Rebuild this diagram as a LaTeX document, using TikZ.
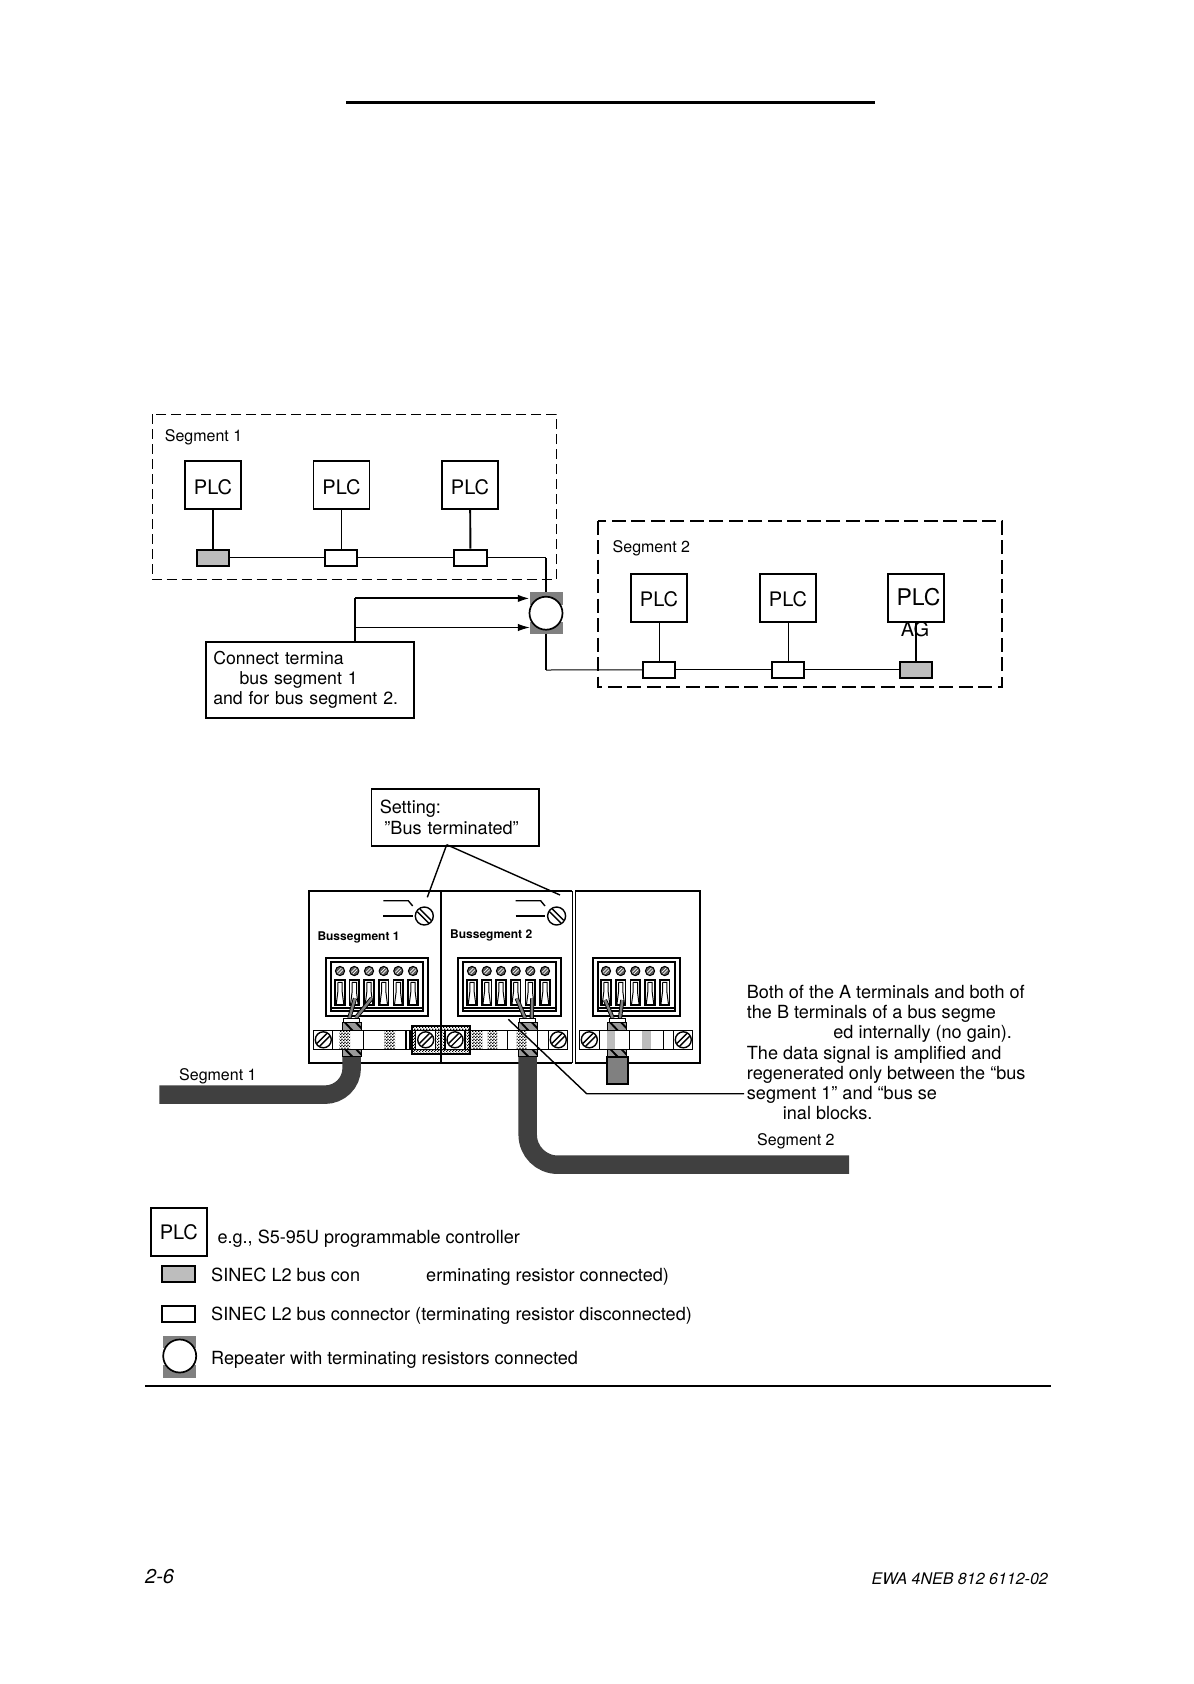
\documentclass[tikz,border=0pt]{standalone}
\usepackage{fontspec}
\setmainfont{TeX Gyre Heros}
\usetikzlibrary{arrows.meta,patterns}
\pgfdeclarepatternformonly{densedots}{\pgfqpoint{0pt}{0pt}}{\pgfqpoint{2.7pt}{2.7pt}}{\pgfqpoint{2.7pt}{2.7pt}}{%
  \pgfpathrectangle{\pgfqpoint{0pt}{0pt}}{\pgfqpoint{1.35pt}{1.35pt}}%
  \pgfpathrectangle{\pgfqpoint{1.35pt}{1.35pt}}{\pgfqpoint{1.35pt}{1.35pt}}%
  \pgfusepath{fill}}
\definecolor{cablegray}{gray}{0.25}
\definecolor{midgray}{gray}{0.5}
\definecolor{lightgray2}{gray}{0.74}
\newcommand\bodyfont{\fontsize{18.1}{20.25}\selectfont}
\newcommand\notefont{\fontsize{17.7}{20.25}\selectfont}
\newcommand\bigscrew[4]{%
  \draw[lw, fill=white] (#1,#2) circle[radius=#3pt];
  \begin{scope}[shift={(#1,#2)},rotate=#4]
    \draw[lw] (-#3*0.88,1.9) -- (#3*0.88,1.9);
    \draw[lw] (-#3*0.88,-1.9) -- (#3*0.88,-1.9);
  \end{scope}}
\newcommand\smallscrew[2]{%
  \draw[line width=1pt,fill=black!65] (#1,#2) circle[radius=4.6pt];
  \draw[white,line width=0.7pt] (#1-3,#2+1.4) -- (#1+1.4,#2-3);
  \draw[white,line width=0.7pt] (#1-1.4,#2+3) -- (#1+3,#2-1.4);}
\newcommand\slotbox[1]{%
  \draw[line width=1.6pt,fill=white] (#1-4.8,980) rectangle (#1+4.8,1005);
  \draw[line width=1pt] (#1-2.2,982.4) -- (#1+2.2,982.4) -- (#1+2.2,992) -- (#1+3.8,1004.5);
  \draw[line width=1pt] (#1-2.2,982.4) -- (#1-2.2,992) -- (#1-3.8,1004.5);}
\newcommand\hclamp[4]{%
  \begin{scope}
    \clip (#1,#2) rectangle (#3,#4);
    \fill[black!40] (#1,#2) rectangle (#3,#4);
    \foreach \dd in {-9,2,13}
      \draw[line width=1.9pt] (#1+\dd,#2-1) -- (#1+\dd+9,#4+1);
  \end{scope}
  \draw[line width=0.9pt] (#1,#2) rectangle (#3,#4);}
\newcommand\dotbar[4]{\pattern[pattern=densedots,pattern color=black] (#1,#2) rectangle (#3,#4);}
\newcommand\termblock[2]{%
  \draw[box] (#1,957.7) rectangle (#2,1016.3);
  \draw[box] (#1+5,962) rectangle (#2-5,1011);
  \draw[box] (#1+5,1007.6) -- (#2-5,1007.6);}
\newcommand\wire[4]{%
  \draw[line width=4.2pt] (#1,#2) -- (#3,#4);
  \draw[black!50,line width=2.4pt] (#1,#2) -- (#3,#4);}
\newcommand\switchsym[1]{%
  \draw[lw] (#1+383.3,900.7) -- (#1+408.3,900.7) -- (#1+412.7,906);
  \draw[lw] (#1+383.3,916) -- (#1+412.7,916);
  \bigscrew{#1+424.3}{916}{9}{135}}
\tikzset{
  lw/.style={line width=1.4pt},
  box/.style={line width=1.9pt},
  thinline/.style={line width=1pt},
  plc/.style={draw,line width=1.9pt,minimum width=56pt,minimum height=48pt,inner sep=0pt,
    font=\fontsize{20}{20}\selectfont,text height=20pt,text depth=0pt},
  conn/.style={draw,line width=1.9pt,minimum width=32.6pt,minimum height=16.3pt,inner sep=0pt,fill=white},
  conng/.style={conn,fill=lightgray2},
  txt/.style={anchor=base west,inner sep=0pt,font=\bodyfont},
  seg/.style={anchor=base west,inner sep=0pt,font=\fontsize{16}{16}\selectfont},
  busl/.style={anchor=base west,inner sep=0pt,font=\fontsize{12}{12}\selectfont\bfseries},
  tabrect/.style={draw=midgray,fill=midgray,line width=0.5pt,minimum width=32pt,minimum height=11.5pt,inner sep=0pt},
  repc/.style={circle,draw,line width=1.7pt,fill=white,minimum size=33pt,inner sep=0pt},
  arrowend/.style={-{Latex[length=12pt,width=7.5pt]}},
  notebox/.style={draw,line width=1.9pt,anchor=north west,align=left,inner sep=0pt,font=\notefont},
}
\begin{document}
\begin{tikzpicture}[x=1pt,y=-1pt]
\useasboundingbox[fill=white] (0,0) rectangle (1194,1684);

% top rule
\coordinate (tr1) at (346,102.5); \coordinate (tr2) at (875,102.5);
\draw[line width=2.1pt] (tr1) -- (tr2);

% segment frames
\draw[line width=0.85pt,dash pattern=on 10pt off 5pt] (152,414) rectangle (556,579.5);
\draw[line width=1.8pt,dash pattern=on 14pt off 5.5pt] (598.3,520.7) rectangle (1001.7,686.7);
\node[seg] (lseg1) at (164.7,441.3) {Segment 1};
\node[seg] (lseg2) at (612.5,552.2) {Segment 2};

% PLCs
\node[plc] (p11) at (213,484.8) {PLC};
\node[plc] (p12) at (341.5,484.8) {PLC};
\node[plc] (p13) at (470,484.8) {PLC};
\node[plc,text height=16.5pt] (p21) at (659,598) {PLC};
\node[plc,text height=16.5pt] (p22) at (788,598) {PLC};
\node[plc,font=\fontsize{23}{23}\selectfont,text height=15.5pt] (p23) at (916,598) {\hspace*{5pt}PLC};

% bus connectors
\node[conng] (c11) at (213,557.8) {};
\node[conn] (c12) at (341,557.8) {};
\node[conn] (c13) at (470.5,557.8) {};
\node[conn] (c21) at (659,669.8) {};
\node[conn] (c22) at (788,669.8) {};
\node[conng] (c23) at (916,669.8) {};

\draw[box] (p11) -- (c11);
\draw[thinline] (p12.south) -- (p12.south |- c12.north);
\draw[box] (p13) -- (c13);
\draw[thinline] (p21.south) -- (p21.south |- c21.north);
\draw[thinline] (p22.south) -- (p22.south |- c22.north);
\draw[box] (p23) -- (c23);
\node[anchor=base west,inner sep=0pt,font=\fontsize{20}{20}\selectfont] (lag) at (900.7,636.3) {AG};

\draw[thinline] (c11) -- (c12);
\draw[thinline] (c12) -- (c13);
\draw[thinline] (c21) -- (c22);
\draw[thinline] (c22) -- (c23);

% repeater
\node[tabrect] (rt1) at (546,598.4) {};
\node[tabrect] (rt2) at (546,627.5) {};
\node[repc] (rep) at (546,613.2) {};
\coordinate (k1) at (546,557.8);
\coordinate (k2) at (546,670);
\draw[thinline] (c13) -- (k1);
\draw[box] (k1) -- (rt1.north);
\draw[box] (rt2.south) -- (k2);
\draw[thinline] (k2) -- (c21);

% note box
\node[notebox,minimum width=208.6pt,minimum height=76pt,text width=208.6pt] (nb) at (204.7,640.7)
  {\hspace*{7.6pt}Connect termina\\ \hspace*{34pt}bus segment 1\\ \hspace*{7.6pt}and for bus segment 2.};
\coordinate (n0) at (355.3,640.7);
\coordinate (n1) at (355.3,598.4);
\coordinate (n2) at (355.3,627.5);
\draw[line width=1.9pt] (n0) -- (n1);
\draw[arrowend,line width=1.9pt] (n1) -- (rt1.west);
\draw[arrowend,thinline] (n2) -- (rt2.west);

% setting box
\node[notebox,font=\bodyfont,minimum width=167.3pt,minimum height=56.7pt,text width=167.3pt] (sb) at (370.5,788)
  {\hspace*{8.3pt}Setting:\\ \hspace*{13pt}”Bus terminated”};
\coordinate (s0) at (446.7,844.7);
\coordinate (s1) at (427.3,897.3);
\coordinate (s2) at (560,895);
\draw[lw] (s0) -- (s1);
\draw[lw] (s0) -- (s2);

% module panels
\draw[box] (309,891) rectangle (441,1062.7);
\draw[lw] (572.3,891) -- (572.3,1062.7);
\draw[box] (441,891) -- (572.3,891);
\draw[box] (441,1062.7) -- (572.3,1062.7);
\draw[box] (575.5,891) rectangle (700,1062.7);
\switchsym{0}
\switchsym{132.3}
\node[busl] (lb1) at (317.3,940) {Bussegment 1};
\node[busl] (lb2) at (450,938) {Bussegment 2};

% terminal blocks
\termblock{325.7}{428.3}
\termblock{458}{560.6}
\termblock{592.7}{680.3}
\foreach \xx in {340,354.3,369,383.7,398.3,413,472,486.7,501,515.7,530.3,545,606,620.7,635.3,650,664.7}{
  \smallscrew{\xx}{971}
  \slotbox{\xx}
}

% rails
\draw[lw,fill=white] (313.3,1030.3) rectangle (567.7,1049.3);
\draw[lw,fill=white] (579.3,1030.3) rectangle (692.7,1049.3);
\dotbar{339.3}{1030.9}{350}{1048.7}
\dotbar{384.3}{1030.9}{395}{1048.7}
\dotbar{471.7}{1030.9}{482.3}{1048.7}
\dotbar{487.7}{1030.9}{497.3}{1048.7}
\dotbar{516.7}{1030.9}{526.7}{1048.7}
\foreach \xx in {332.3,363.3,406,410,507.7,537.3,548.3,599.3,629.3,663.3,673.3}
  \draw[lw] (\xx,1030.3) -- (\xx,1049.3);
\fill[lightgray2] (606.7,1031) rectangle (615,1048.7);
\fill[lightgray2] (641.7,1031) rectangle (650.7,1048.7);
\bigscrew{323.3}{1039.8}{8}{45}
\bigscrew{558.3}{1039.8}{8}{45}
\bigscrew{589.3}{1039.8}{8}{45}
\bigscrew{683.3}{1039.8}{8}{45}

% screw pair box
\dotbar{411.7}{1025.7}{470}{1054}
\draw[line width=2.2pt] (411.7,1025.7) rectangle (470,1054);
\draw[lw,fill=white] (415.7,1030.3) rectangle (435.7,1049.3);
\draw[lw,fill=white] (445,1030.3) rectangle (465,1049.3);
\bigscrew{425.7}{1039.8}{8}{45}
\bigscrew{455}{1039.8}{8}{45}
\draw[box] (441,1025.7) -- (441,1062.7);

% cables
\draw[cablegray,line width=18.5pt] (351.7,1056) -- (351.7,1068)
  .. controls (351.7,1083) and (339.7,1094.7) .. (324.7,1094.7) -- (159.3,1094.7);
\draw[cablegray,line width=18.5pt] (527.7,1056) -- (527.7,1134.7)
  .. controls (527.7,1151.3) and (541.1,1164.7) .. (557.7,1164.7) -- (849,1164.7);

% wires and clamps
\wire{349.3}{1018}{355}{998.3}
\wire{355.7}{1018}{371.7}{998.3}
\wire{525}{1018}{516.7}{998.3}
\wire{531.7}{1018}{532.3}{998.3}
\wire{612.7}{1018}{605}{1000}
\wire{620}{1018}{622.3}{1000}
\foreach \cx in {351.7,527.7,617}{
  \draw[line width=0.9pt,fill=white] (\cx-8,1018.3) rectangle (\cx+8,1022.7);
  \hclamp{\cx-9.5}{1022.7}{\cx+9.5}{1030.3}
  \hclamp{\cx-9.5}{1049.3}{\cx+9.5}{1056.5}
}
\draw[line width=1.9pt,fill=midgray] (606.7,1056.7) rectangle (628.3,1084);

% leader
\coordinate (ld0) at (508.3,1019.3);
\coordinate (ld1) at (586.7,1093.7);
\coordinate (ld2) at (744,1093.7);
\draw[lw] (ld0) -- (ld1) -- (ld2);

% labels near cables
\node[seg] (lc1) at (179,1080) {Segment 1};
\node[seg] (lc2) at (757,1145) {Segment 2};

% right text
\node[anchor=north west,align=left,inner sep=0pt,font=\bodyfont] (rtext) at (746.7,984.8)
  {Both of the A terminals and both of\\
   the B terminals of a bus segme\\
   \hspace*{86.5pt}ed internally (no gain).\\
   The data signal is amplified and\\
   regenerated only between the “bus\\
   segment 1” and “bus se\\
   \hspace*{36pt}inal blocks.};

% legend
\node[plc,text height=14.5pt] (lp) at (178.8,1232) {PLC};
\node[txt] (l1) at (217.3,1243.3) {e.g., S5-95U programmable controller};
\node[conng] (lc) at (178.5,1274) {};
\node[txt] (l2a) at (211,1281.7) {SINEC L2 bus con};
\node[txt] (l2b) at (426,1281.7) {erminating resistor connected)};
\node[conn] (lw) at (178.5,1314) {};
\node[txt] (l3) at (211,1320) {SINEC L2 bus connector (terminating resistor disconnected)};
\node[tabrect] (lr1) at (179.7,1341.5) {};
\node[tabrect] (lr2) at (179.7,1371) {};
\node[repc] (lrep) at (179.7,1356) {};
\node[txt] (l4) at (211,1364) {Repeater with terminating resistors connected};

% bottom rule
\coordinate (br1) at (145,1386); \coordinate (br2) at (1051,1386);
\draw[line width=2.1pt] (br1) -- (br2);

% footer
\node[anchor=base west,inner sep=0pt,font=\fontsize{20}{20}\selectfont\itshape] (f1) at (145,1583) {2-6};
\node[anchor=base east,inner sep=0pt,font=\fontsize{16}{16}\selectfont\itshape] (f2) at (1048,1584) {EWA 4NEB 812 6112-02};
\end{tikzpicture}
\end{document}
